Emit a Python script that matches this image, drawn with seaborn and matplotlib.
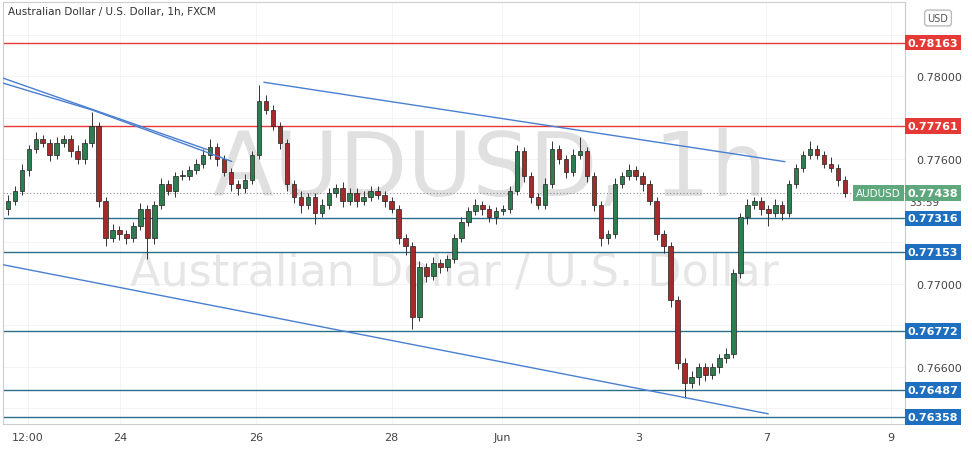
import numpy as np
import matplotlib.pyplot as plt
import seaborn as sns

# hourly-ish candles (closes); open = previous close
closes = [0.7740, 0.7745, 0.7755, 0.7765, 0.7770, 0.7768, 0.7762, 0.7768, 0.7770, 0.7764,
          0.7760, 0.7768, 0.7776, 0.7740, 0.7722, 0.7726, 0.7724, 0.7722, 0.7728, 0.7736,
          0.7722, 0.7738, 0.7748, 0.7745, 0.7752, 0.7752, 0.7755, 0.7758, 0.7762, 0.7766,
          0.7760, 0.7754, 0.7748, 0.7746, 0.7750, 0.7762, 0.7788, 0.7784, 0.7776, 0.7768,
          0.7748, 0.7742, 0.7738, 0.7742, 0.7734, 0.7738, 0.7744, 0.7746, 0.7740, 0.7744,
          0.7740, 0.7742, 0.7745, 0.7743, 0.7740, 0.7736, 0.7722, 0.7718, 0.7684, 0.7708,
          0.7704, 0.7710, 0.7708, 0.7712, 0.7722, 0.7730, 0.7735, 0.7738, 0.7736, 0.7732,
          0.7735, 0.7736, 0.7745, 0.7764, 0.7752, 0.7742, 0.7738, 0.7748, 0.7765, 0.7760,
          0.7754, 0.7762, 0.7764, 0.7752, 0.7738, 0.7722, 0.7724, 0.7748, 0.7752, 0.7755,
          0.7752, 0.7748, 0.7740, 0.7724, 0.7718, 0.7692, 0.7662, 0.7652, 0.7655, 0.7660,
          0.7656, 0.7660, 0.7664, 0.7666, 0.7705, 0.7732, 0.7738, 0.7740, 0.7736, 0.7734,
          0.7738, 0.7734, 0.7748, 0.7756, 0.7762, 0.7765, 0.7762, 0.7758, 0.7756, 0.7750,
          0.77438]
first_open = 0.7736
# wick lengths in pips (1e-4)
up_wick = [3, 2, 3, 2, 3, 2, 2, 3, 2, 2, 3, 2, 7, 2, 2, 3, 2, 2, 2, 3,
           2, 2, 3, 2, 2, 3, 2, 2, 3, 4, 2, 2, 2, 2, 3, 2, 8, 3, 2, 2,
           2, 2, 3, 2, 2, 3, 2, 2, 3, 2, 2, 3, 2, 2, 2, 2, 2, 2, 2, 3,
           2, 3, 2, 2, 2, 2, 2, 3, 2, 2, 2, 2, 2, 3, 2, 2, 2, 3, 4, 2,
           2, 3, 7, 2, 2, 2, 2, 3, 2, 3, 2, 2, 2, 2, 2, 2, 2, 2, 3, 2,
           2, 2, 2, 3, 2, 2, 3, 2, 2, 2, 3, 2, 2, 2, 2, 4, 2, 2, 3, 2,
           2]
lo_wick = [3, 2, 2, 3, 2, 2, 3, 2, 2, 3, 2, 2, 2, 3, 4, 2, 3, 3, 2, 2,
           10, 3, 2, 2, 3, 2, 2, 2, 2, 2, 3, 2, 3, 3, 2, 2, 2, 2, 2, 3,
           3, 3, 4, 2, 5, 2, 2, 2, 3, 2, 3, 2, 2, 2, 3, 2, 3, 4, 6, 2,
           3, 2, 3, 2, 2, 2, 2, 2, 3, 2, 3, 2, 2, 2, 3, 3, 2, 2, 2, 2,
           3, 2, 2, 3, 3, 4, 3, 2, 2, 2, 2, 3, 2, 3, 3, 3, 3, 7, 2, 4,
           3, 2, 3, 2, 2, 2, 3, 2, 3, 6, 2, 3, 2, 2, 2, 2, 2, 2, 2, 3,
           2]

red_levels = [0.78163, 0.77761]
blue_levels = [0.77316, 0.77153, 0.76772, 0.76487, 0.76358]
last_price = 0.77438
tick_prices = [0.7640, 0.7660, 0.7680, 0.7700, 0.7720, 0.7740, 0.7760, 0.7780, 0.7800, 0.7820]
tick_pos = [2.9, 16.1, 35.6, 55.0, 70.9, 90.4, 108.7, 126.6]
tick_labels = ["12:00", "24", "26", "28", "Jun", "3", "7", "9"]
# trendlines: (x0, p0, x1, p1) in candle index / price
trendlines = [(-0.7, 0.77992, 28.6, 0.77647),
              (-0.7, 0.77968, 12.1, 0.77838),
              (12.1, 0.77838, 32.1, 0.77590),
              (36.7, 0.77972, 111.4, 0.77589),
              (-0.7, 0.77092, 109.0, 0.76373)]

sns.set_style("white")
plt.rcParams['font.family'] = ['DejaVu Sans']

fig = plt.figure(figsize=(9.72, 4.6), dpi=100)
ax = fig.add_axes([3 / 972, 35 / 460, 902 / 972, 422 / 460])

opens = [first_open] + closes[:-1]
x = np.arange(len(closes))
for i in x:
    o, c = opens[i], closes[i]
    hi = max(o, c) + up_wick[i] * 1e-4
    lo = min(o, c) - lo_wick[i] * 1e-4
    col = "#2e7d4f" if c >= o else "#a52a2a"
    ax.vlines(i, lo, hi, color="#333333", linewidth=0.7, zorder=3)
    ax.bar(i, max(abs(c - o), 0.00004), bottom=min(o, c), width=0.65,
           color=col, edgecolor="#222222", linewidth=0.5, zorder=4)

for lv in red_levels:
    ax.axhline(lv, color="#e53935", linewidth=1.0, zorder=2)
for lv in blue_levels:
    ax.axhline(lv, color="#2a6f8a", linewidth=1.0, zorder=2)
ax.axhline(last_price, color="#888888", linewidth=0.8, linestyle=(0, (1, 2)), zorder=2)

for x0, p0, x1, p1 in trendlines:
    ax.plot([x0, x1], [p0, p1], color="#4a7fd0", linewidth=1.0, zorder=5)

ax.text(0.54, 0.60, "AUDUSD, 1h", transform=ax.transAxes, fontsize=64, color="#e0e0e0",
        ha="center", va="center", zorder=1)
ax.text(0.5, 0.36, "Australian Dollar / U.S. Dollar", transform=ax.transAxes, fontsize=32,
        color="#e6e6e6", ha="center", va="center", zorder=1)

ax.set_xlim(-0.7, 128.6)
ax.set_ylim(0.76324, 0.78359)
ax.set_xticks(tick_pos)
ax.set_xticklabels(tick_labels)
ax.yaxis.tick_right()
# price labels hidden behind the level boxes are left out
boxed = red_levels + blue_levels + [last_price]
shown = [p for p in tick_prices if min(abs(p - b) for b in boxed) > 0.0006]
ax.set_yticks(tick_prices)
ax.set_yticklabels([f"{p:.5f}" if p in shown else "" for p in tick_prices])
ax.tick_params(axis="both", labelsize=8, colors="#444444", length=0, pad=8)
ax.tick_params(axis="x", pad=6)
for s in ax.spines.values():
    s.set_color("#cccccc")
ax.grid(color="#f2f2f2", linewidth=0.6)

def box(p, txt, color):
    ax.text(1.003, p, txt, transform=ax.get_yaxis_transform(), fontsize=8, color="white",
            fontweight="bold", va="center", ha="left", zorder=6,
            bbox=dict(boxstyle="square,pad=0.25", fc=color, ec="none"))

for lv in red_levels:
    box(lv, f"{lv:.5f}", "#e53935")
for lv in blue_levels:
    box(lv, f"{lv:.5f}", "#1e6fbf")
ax.text(0.995, last_price, "AUDUSD", transform=ax.get_yaxis_transform(), fontsize=7.5,
        color="white", va="center", ha="right", zorder=6,
        bbox=dict(boxstyle="square,pad=0.3", fc="#5fa77c", ec="none"))
box(last_price, f"{last_price:.5f}", "#5fa77c")
ax.text(1.005, last_price - 0.00045, "33:59", transform=ax.get_yaxis_transform(),
        fontsize=7.5, color="#444444", va="center", ha="left")
fig.text(938 / 972, 1 - 19 / 460, "USD", fontsize=7, color="#555555", ha="center", va="center",
         bbox=dict(boxstyle="round,pad=0.3", fc="white", ec="#bbbbbb"))
fig.text(8 / 972, 1 - 12 / 460, "Australian Dollar / U.S. Dollar, 1h, FXCM", fontsize=7.5,
         color="#333333", va="center")

fig.savefig("out.png", dpi=100)
